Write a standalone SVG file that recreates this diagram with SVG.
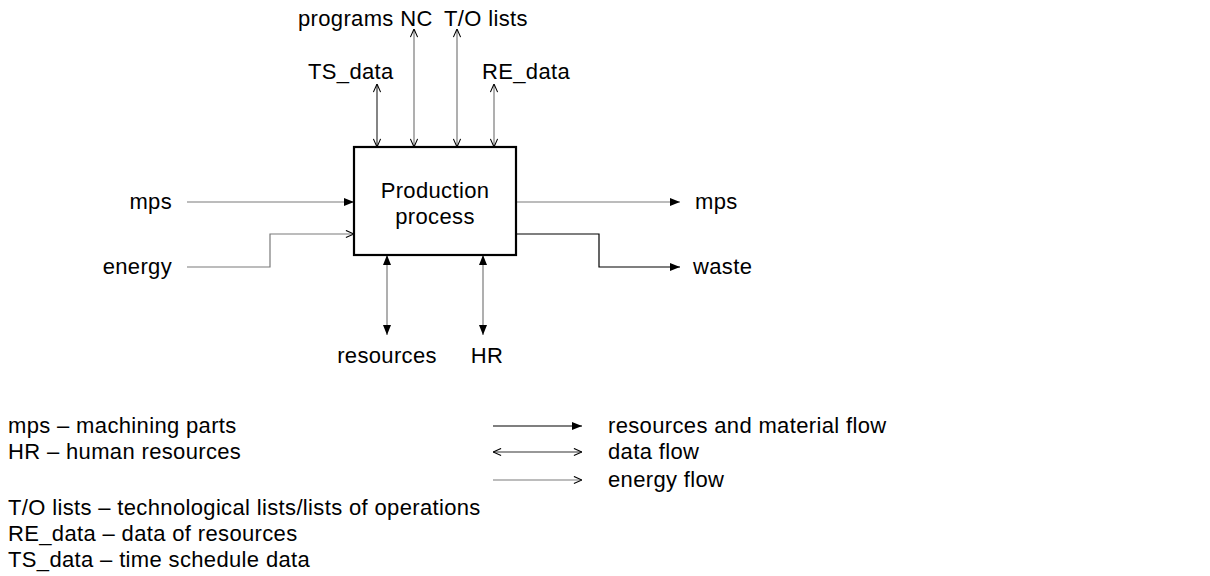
<svg xmlns="http://www.w3.org/2000/svg" width="1210" height="576" viewBox="0 0 1210 576">
<defs>
<style>
text{font-family:"Liberation Sans",Arial,sans-serif;font-size:22px;letter-spacing:0.35px;fill:#000}
.c{fill:none;stroke:#7a7a7a;stroke-width:1.2}
.d{fill:none;stroke:#333;stroke-width:1.2}
.k{fill:none;stroke:#000;stroke-width:1.2}
</style>
<marker id="fa" viewBox="0 0 10 10" refX="10" refY="5" markerWidth="10" markerHeight="10" markerUnits="userSpaceOnUse" orient="auto-start-reverse"><path d="M0,1 L10,5 L0,9 z" fill="#000"/></marker>
<marker id="oa" viewBox="0 0 10 10" refX="10" refY="5" markerWidth="9" markerHeight="9" markerUnits="userSpaceOnUse" orient="auto-start-reverse"><path d="M1,1 L10,5 L1,9" fill="none" stroke="#000" stroke-width="1.2"/></marker>
</defs>
<rect width="1210" height="576" fill="#fff"/>
<g id="connectors">
<line class="d" x1="377" y1="84" x2="377" y2="147" marker-start="url(#oa)" marker-end="url(#oa)"/>
<line class="c" x1="414" y1="29" x2="414" y2="147" marker-start="url(#oa)" marker-end="url(#oa)"/>
<line class="c" x1="457" y1="29" x2="457" y2="147" marker-start="url(#oa)" marker-end="url(#oa)"/>
<line class="c" x1="494" y1="84" x2="494" y2="147" marker-start="url(#oa)" marker-end="url(#oa)"/>
<line class="c" x1="187" y1="202" x2="354" y2="202" marker-end="url(#fa)"/>
<polyline class="c" points="187,267 270,267 270,234 354,234" marker-end="url(#oa)"/>
<line class="c" x1="516" y1="202" x2="680" y2="202" marker-end="url(#fa)"/>
<polyline class="k" points="516,234 599,234 599,267 680,267" marker-end="url(#fa)"/>
<line class="c" x1="387" y1="255" x2="387" y2="335" marker-start="url(#fa)" marker-end="url(#fa)"/>
<line class="c" x1="483" y1="255" x2="483" y2="335" marker-start="url(#fa)" marker-end="url(#fa)"/>
</g>
<g id="process">
<rect x="354" y="147" width="162" height="108" fill="#fff" stroke="#000" stroke-width="2.2"/>
<text x="435" y="198" text-anchor="middle">Production</text>
<text x="435" y="224" text-anchor="middle">process</text>
</g>
<g id="labels">
<text x="298" y="26">programs NC</text>
<text x="444" y="26">T/O lists</text>
<text x="308" y="79">TS_data</text>
<text x="482" y="79">RE_data</text>
<text x="172" y="209" text-anchor="end">mps</text>
<text x="172" y="274" text-anchor="end">energy</text>
<text x="695" y="209">mps</text>
<text x="693" y="274">waste</text>
<text x="387" y="363" text-anchor="middle">resources</text>
<text x="487" y="363" text-anchor="middle">HR</text>
</g>
<g id="legend">
<line class="k" x1="493" y1="426" x2="582" y2="426" marker-end="url(#fa)"/>
<line class="d" x1="493" y1="452" x2="582" y2="452" marker-start="url(#oa)" marker-end="url(#oa)"/>
<line class="c" x1="493" y1="480" x2="582" y2="480" marker-end="url(#oa)"/>
<text x="608" y="433">resources and material flow</text>
<text x="608" y="459">data flow</text>
<text x="608" y="487">energy flow</text>
<text x="8" y="433">mps – machining parts</text>
<text x="8" y="459">HR – human resources</text>
<text x="8" y="515">T/O lists – technological lists/lists of operations</text>
<text x="8" y="541">RE_data – data of resources</text>
<text x="8" y="567">TS_data – time schedule data</text>
</g>
</svg>
